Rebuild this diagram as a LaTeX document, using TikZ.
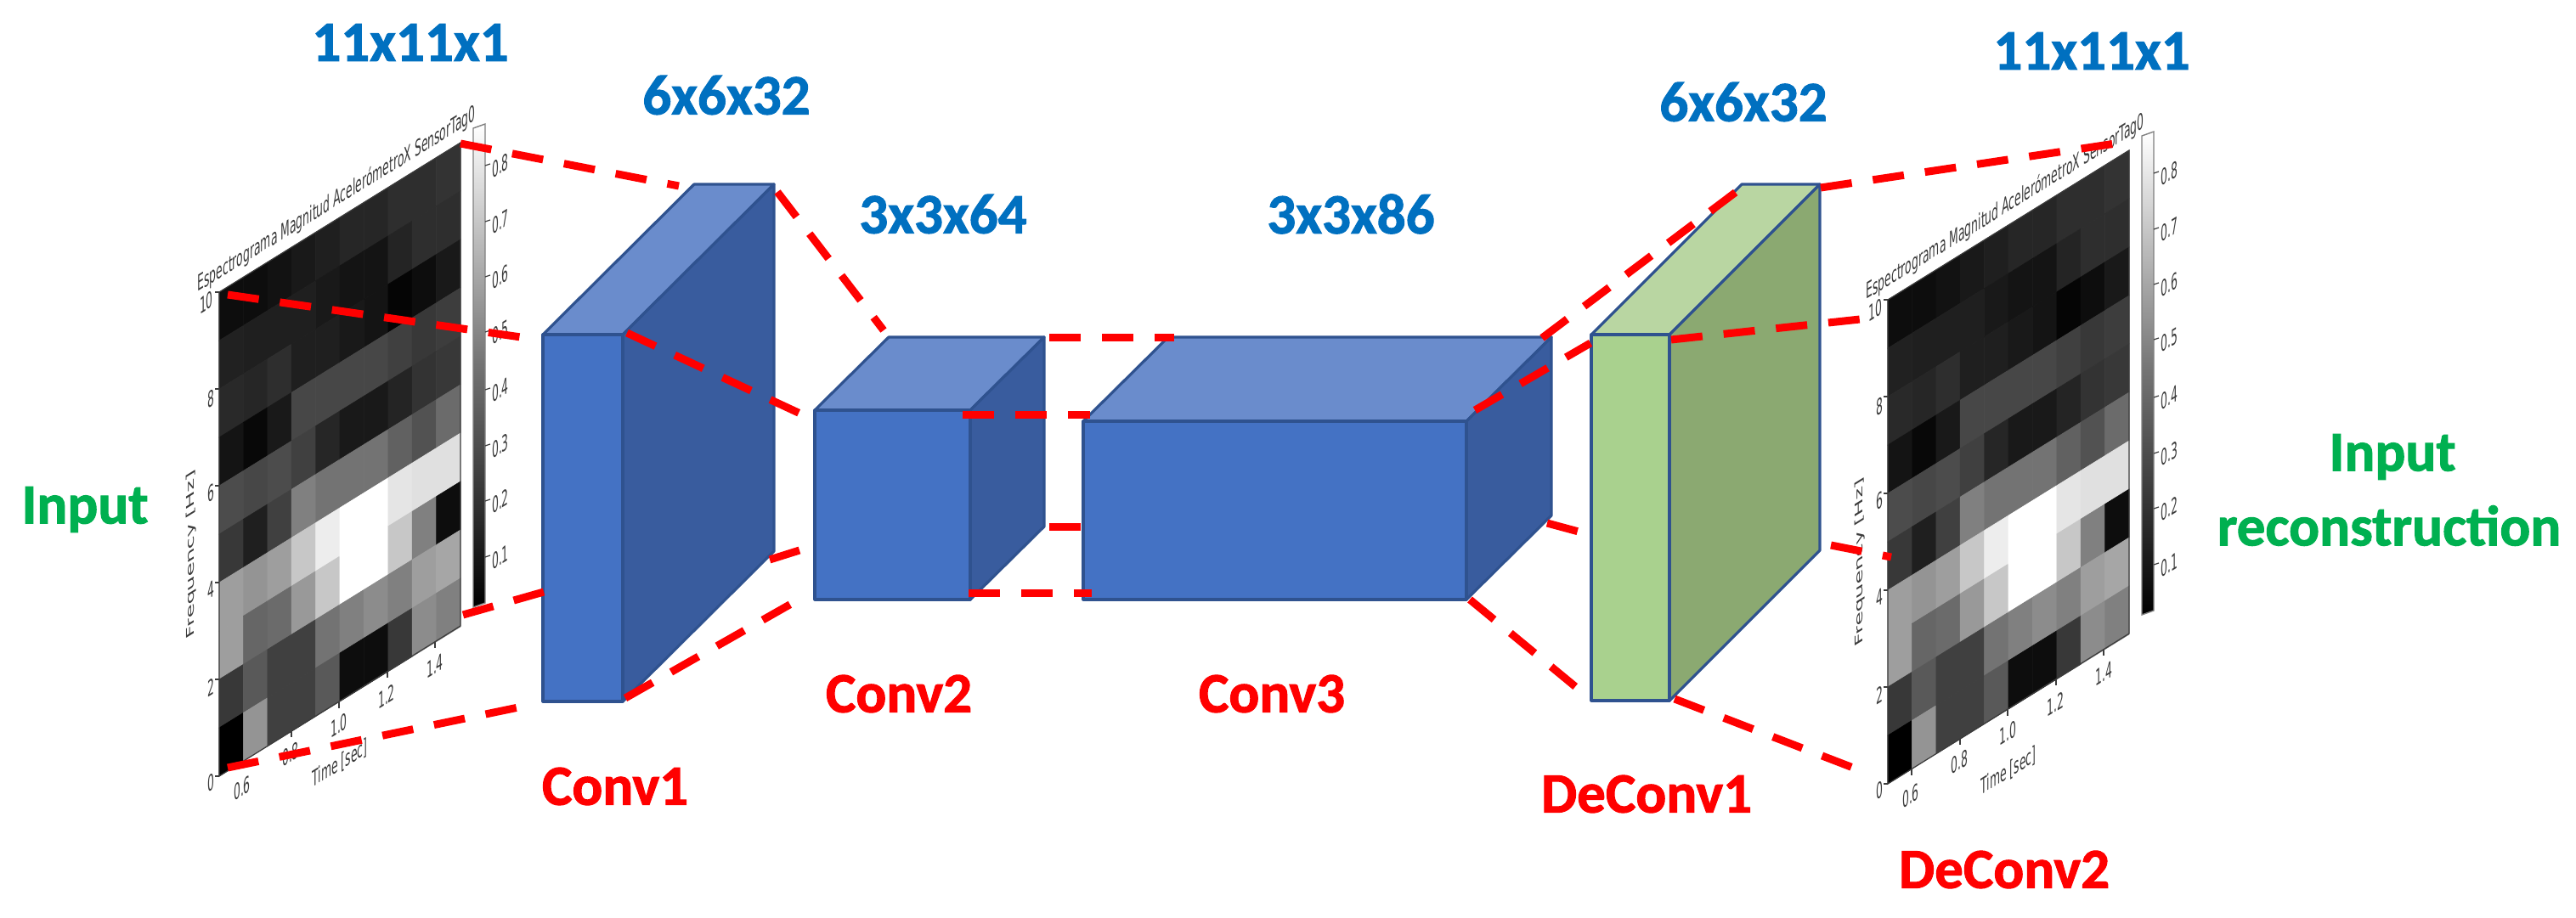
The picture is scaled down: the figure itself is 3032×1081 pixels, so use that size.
\documentclass[tikz,border=0pt]{standalone}
\usepackage{fontspec}
\setmainfont{Carlito}[BoldFont={Carlito Bold},BoldFeatures={FakeBold=1.5}]
\newfontfamily\plotfont{DejaVu Sans}
\definecolor{cfront}{HTML}{4472C4}
\definecolor{ctop}{HTML}{6A8CCC}
\definecolor{cside}{HTML}{395C9E}
\definecolor{cedge}{HTML}{2F528F}
\definecolor{gfront}{HTML}{A9D18E}
\definecolor{gtop}{HTML}{B9D6A2}
\definecolor{gside}{HTML}{8BA971}
\definecolor{dimblue}{HTML}{0070C0}
\definecolor{labred}{HTML}{FF0000}
\definecolor{labgreen}{HTML}{00B050}
\definecolor{plotgray}{HTML}{3C3C3C}
\tikzset{
  x=1pt,y=-1pt,
  dimlabel/.style={font=\fontsize{67}{70}\selectfont\bfseries,text=dimblue,inner sep=0pt},
  layerlabel/.style={font=\fontsize{67}{70}\selectfont\bfseries,text=labred,inner sep=0pt},
  sidelabel/.style={font=\fontsize{67}{70}\selectfont\bfseries,text=labgreen,inner sep=0pt},
  plotlabel/.style={font=\plotfont\fontsize{20}{24}\selectfont,text=plotgray,inner sep=0pt,
    transform shape,cm={0.62,0.384,0,1.3,(0,0)}},
  tickline/.style={draw=plotgray,line width=1.2pt},
  faceedge/.style={draw=cedge,line width=3.2pt,line join=round},
  link/.style={draw=labred,line width=9pt,dash pattern=on 37pt off 25pt},
}
% #1 name prefix, #2 dx, #3 dy
\newcommand{\spectro}[3]{%
\begin{scope}[shift={(#2,#3)}]
  \foreach \cl [count=\c from 0] in {
    {5,13,16,8,30,22,62,62,22,0},
    {5,12,15,3,28,12,58,40,35,58},
    {7,12,18,10,30,25,62,42,25,25},
    {10,12,12,28,25,50,78,60,25,25},
    {12,10,12,28,15,45,93,78,45,35},
    {15,8,10,28,10,45,100,100,50,5},
    {15,8,8,28,10,45,100,100,55,5},
    {18,14,2,25,14,38,90,78,50,22},
    {18,18,5,22,20,32,88,50,62,55},
    {20,18,10,24,22,42,88,5,65,50}} {
    \foreach \v [count=\r from 0] in \cl {
      \pgfmathsetmacro{\xa}{258+28.4*\c}
      \pgfmathsetmacro{\xb}{258+28.4*(\c+1)}
      \pgfmathsetmacro{\ya}{344+57*\r-17.6*\c}
      \pgfmathsetmacro{\yb}{\ya-17.6}
      \filldraw[draw=white!\v!black,fill=white!\v!black,line width=0.6pt]
        (\xa,\ya)--(\xb,\yb)--(\xb,\yb+57)--(\xa,\ya+57)--cycle;
    }
  }
  \draw[plotgray,line width=1.2pt] (258,344)--(542,168)--(542,737)--(258,914)--cycle;
  % colour bar
  \shade[bottom color=black,top color=white,middle color=black!55]
    (557,151)--(571,146)--(571,710)--(557,715)--cycle;
  \draw[draw=gray,line width=1.4pt] (557,151)--(571,146)--(571,710)--(557,715)--cycle;
  % colour bar ticks and labels
  \foreach \lab/\yy in {0.8/195,0.7/261,0.6/326,0.5/391,0.4/459,0.3/525,0.2/590,0.1/656} {
    \draw[tickline] (571,\yy)--(577,\yy-2);
    \node[plotlabel] (#1cb\lab) at (589,\yy) {\lab};
  }
  % y axis
  \foreach \lab/\yy/\ly/\lx in {10/344/356/243,8/458/470/248,6/572/581/248,4/686/695/248,2/800/809/248,0/914/922/248} {
    \draw[tickline] (258,\yy)--(253,\yy);
    \node[plotlabel] (#1y\lab) at (\lx,\ly) {\lab};
  }
  % x axis
  \foreach \lab/\xx/\tt/\lx/\ly in {0.6/286/897/285/928,0.8/343/861/342/888,1.0/399/827/399/854,1.2/456/791/455/820,1.4/512/756/512/784} {
    \draw[tickline] (\xx,\tt)--(\xx,\tt+7);
    \node[plotlabel] (#1x\lab) at (\lx,\ly) {\lab};
  }
  \node[plotlabel] (#1time) at (400,899) {Time [sec]};
  \node[plotlabel] (#1freq) at (225,653) {\rotatebox{90}{Frequency [Hz]}};
  \node[plotlabel] (#1title) at (396,235) {Espectrograma Magnitud AcelerómetroX SensorTag0};
\end{scope}}
% #1 name, #2 xl, #3 xr, #4 yt, #5 yb, #6 dx, #7 dy, #8 front, #9 top ; side colour set by \sidecol
\newcommand{\cuboid}[9]{%
  \coordinate (#1fl) at (#2,#4);
  \coordinate (#1fr) at (#3,#4);
  \coordinate (#1br) at (#3,#5);
  \coordinate (#1bl) at (#2,#5);
  \coordinate (#1tl) at (#2+#6,#4-#7);
  \coordinate (#1tr) at (#3+#6,#4-#7);
  \coordinate (#1sb) at (#3+#6,#5-#7);
  \filldraw[faceedge,fill=#9] (#1fl)--(#1tl)--(#1tr)--(#1fr)--cycle;
  \filldraw[faceedge,fill=\sidecol] (#1fr)--(#1tr)--(#1sb)--(#1br)--cycle;
  \filldraw[faceedge,fill=#8] (#1fl)--(#1fr)--(#1br)--(#1bl)--cycle;
}
\begin{document}
\begin{tikzpicture}
\useasboundingbox (0,0) rectangle (3032,1081);
\fill[white] (0,0) rectangle (3032,1081);

\spectro{a}{0}{0}
\spectro{b}{1964}{9}

\def\sidecol{cside}
\cuboid{ca}{639}{733}{394}{826}{178}{177}{cfront}{ctop}
\cuboid{cb}{959}{1142}{483}{706}{87}{86}{cfront}{ctop}
\cuboid{cc}{1275}{1726}{496}{706}{100}{99}{cfront}{ctop}
\def\sidecol{gside}
\cuboid{cd}{1873}{1965}{394}{825}{177}{177}{gfront}{gtop}

% connector ends
\coordinate (p1a) at (542,169);   \coordinate (p1b) at (799,219);
\coordinate (p2a) at (268,347);   \coordinate (p2b) at (613,397);
\coordinate (p3a) at (545,724);   \coordinate (p3b) at (640,697);
\coordinate (p4a) at (268,904);   \coordinate (p4b) at (610,833);
\coordinate (p5a) at (738,392);   \coordinate (p5b) at (944,488);
\coordinate (p6a) at (906,659);   \coordinate (p6b) at (941,648);
\coordinate (p7a) at (736,822);   \coordinate (p7b) at (933,710);
\coordinate (p8a) at (915,226);   \coordinate (p8b) at (1040,389);
\coordinate (q1a) at (1235,397);  \coordinate (q1b) at (1382,397);
\coordinate (q2a) at (1133,488);  \coordinate (q2b) at (1283,488);
\coordinate (q3a) at (1235,620);  \coordinate (q3b) at (1272,620);
\coordinate (q4a) at (1140,698);  \coordinate (q4b) at (1285,698);
\coordinate (r1a) at (1815,398);  \coordinate (r1b) at (2046,224);
\coordinate (r2a) at (1736,483);  \coordinate (r2b) at (1872,404);
\coordinate (r3a) at (1821,616);  \coordinate (r3b) at (1858,626);
\coordinate (r4a) at (1730,706);  \coordinate (r4b) at (1856,810);
\coordinate (s1a) at (2143,221);  \coordinate (s1b) at (2490,169);
\coordinate (s2a) at (1967,400);  \coordinate (s2b) at (2189,376);
\coordinate (s3a) at (2155,642);  \coordinate (s3b) at (2226,656);
\coordinate (s4a) at (1971,823);  \coordinate (s4b) at (2181,904);

\foreach \m in {p1,p2,p3,p4,p5,p6,p7,p8,q1,q2,q3,q4,r1,r2,r3,r4,s1,s2,s3,s4}
  \draw[link] (\m a) -- (\m b);

% labels
\node[dimlabel] (d1) at (483,50) {11x11x1};
\node[dimlabel] (d2) at (855,112) {6x6x32};
\node[dimlabel] (d3) at (1110,252) {3x3x64};
\node[dimlabel] (d4) at (1590,252) {3x3x86};
\node[dimlabel] (d5) at (2052,120) {6x6x32};
\node[dimlabel] (d6) at (2462,60) {11x11x1};
\node[layerlabel] (l1) at (724,926) {Conv1};
\node[layerlabel] (l2) at (1058,817) {Conv2};
\node[layerlabel] (l3) at (1497,817) {Conv3};
\node[layerlabel] (l4) at (1938,935) {DeConv1};
\node[layerlabel] (l5) at (2359,1024) {DeConv2};
\node[sidelabel] (i1) at (100,600) {Input};
\node[sidelabel] (i2) at (2816,538) {Input};
\node[sidelabel] (i3) at (2812,619) {reconstruction};
\end{tikzpicture}
\end{document}
